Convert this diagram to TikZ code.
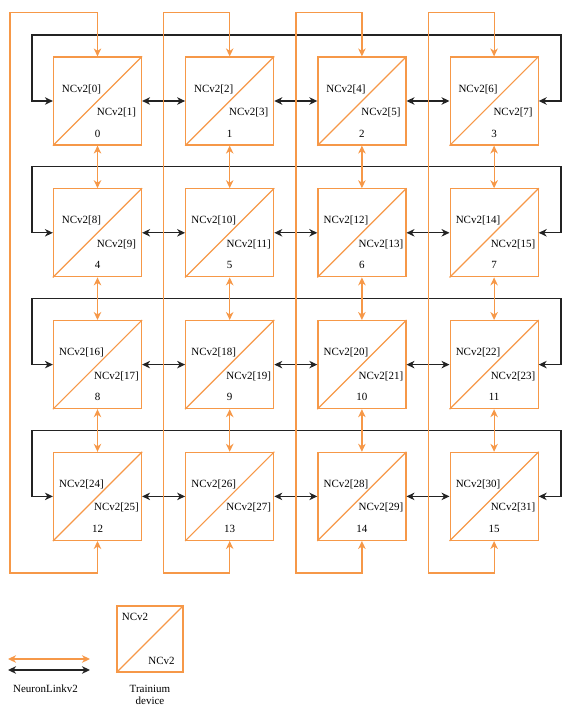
\documentclass[tikz,border=0pt]{standalone}
\usepackage{fontspec}
\setmainfont{Liberation Serif}
\usetikzlibrary{arrows.meta,calc}
\definecolor{arancio}{RGB}{246,152,72}
\definecolor{nero}{RGB}{35,35,35}

\begin{document}
\begin{tikzpicture}[x=1pt, y=-1pt, line width=1.2pt,
    >={Stealth[length=8pt, width=7.5pt, inset=2.5pt]},
    dev/.style={draw=arancio, minimum size=88pt, inner sep=0pt},
    txt/.style={font=\fontsize{11}{12}\selectfont, inner sep=0pt, text=black},
    olink/.style={draw=arancio, <->},
    blink/.style={draw=nero, <->}]

    \useasboundingbox (0,0) rectangle (574,711);

    % Definizione del comando \chip: numero, x, y
    \def\chip#1#2#3{%
        \node[dev] (d#1) at (#2,#3) {};%
        \draw[arancio] (d#1.south west) -- (d#1.north east);%
        \node[txt] (u#1) at ($(d#1)+(-16,-12)$) {NCv2[\the\numexpr2*#1\relax]};%
        \node[txt] (l#1) at ($(d#1)+(19,11.5)$) {NCv2[\the\numexpr2*#1+1\relax]};%
        \node[txt] (n#1) at ($(d#1)+(0,32.5)$) {#1};%
    }

    % -- Griglia 4x4 dei dispositivi --
    \chip{0}{97.5}{101}    \chip{1}{229.7}{101}
    \chip{2}{361.9}{101}   \chip{3}{494.1}{101}
    \chip{4}{97.5}{232.8}  \chip{5}{229.7}{232.8}
    \chip{6}{361.9}{232.8} \chip{7}{494.1}{232.8}
    \chip{8}{97.5}{364.6}  \chip{9}{229.7}{364.6}
    \chip{10}{361.9}{364.6} \chip{11}{494.1}{364.6}
    \chip{12}{97.5}{496.4} \chip{13}{229.7}{496.4}
    \chip{14}{361.9}{496.4} \chip{15}{494.1}{496.4}

    % -- Anelli di riga (neri) --
    \coordinate (rl0) at (32,35);     \coordinate (rr0) at (561,35);
    \coordinate (rl1) at (32,166.8);  \coordinate (rr1) at (561,166.8);
    \coordinate (rl2) at (32,298.6);  \coordinate (rr2) at (561,298.6);
    \coordinate (rl3) at (32,430.4);  \coordinate (rr3) at (561,430.4);

    \draw[blink] (d0.west) -| (rl0) -- (rr0) |- (d3.east);
    \draw[blink] (d4.west) -| (rl1) -- (rr1) |- (d7.east);
    \draw[blink] (d8.west) -| (rl2) -- (rr2) |- (d11.east);
    \draw[blink] (d12.west) -| (rl3) -- (rr3) |- (d15.east);

    % collegamenti orizzontali fra vicini
    \draw[blink] (d0) -- (d1);   \draw[blink] (d1) -- (d2);   \draw[blink] (d2) -- (d3);
    \draw[blink] (d4) -- (d5);   \draw[blink] (d5) -- (d6);   \draw[blink] (d6) -- (d7);
    \draw[blink] (d8) -- (d9);   \draw[blink] (d9) -- (d10);  \draw[blink] (d10) -- (d11);
    \draw[blink] (d12) -- (d13); \draw[blink] (d13) -- (d14); \draw[blink] (d14) -- (d15);

    % -- Anelli di colonna (arancio) --
    \coordinate (ct0) at (10,12.5);    \coordinate (cb0) at (10,573);
    \coordinate (ct1) at (163.7,12.5); \coordinate (cb1) at (163.7,573);
    \coordinate (ct2) at (295.9,12.5); \coordinate (cb2) at (295.9,573);
    \coordinate (ct3) at (428.1,12.5); \coordinate (cb3) at (428.1,573);

    \draw[olink] (d0.north) |- (ct0) -- (cb0) -| (d12.south);
    \draw[olink] (d1.north) |- (ct1) -- (cb1) -| (d13.south);
    \draw[olink] (d2.north) |- (ct2) -- (cb2) -| (d14.south);
    \draw[olink] (d3.north) |- (ct3) -- (cb3) -| (d15.south);

    % collegamenti verticali fra vicini
    \draw[olink] (d0) -- (d4);   \draw[olink] (d4) -- (d8);   \draw[olink] (d8) -- (d12);
    \draw[olink] (d1) -- (d5);   \draw[olink] (d5) -- (d9);   \draw[olink] (d9) -- (d13);
    \draw[olink] (d2) -- (d6);   \draw[olink] (d6) -- (d10);  \draw[olink] (d10) -- (d14);
    \draw[olink] (d3) -- (d7);   \draw[olink] (d7) -- (d11);  \draw[olink] (d11) -- (d15);

    % -- Legenda --
    \coordinate (lo1) at (8,659);  \coordinate (lo2) at (90,659);
    \coordinate (lb1) at (8,670);  \coordinate (lb2) at (90,670);
    \draw[olink] (lo1) -- (lo2);
    \draw[blink] (lb1) -- (lb2);
    \node[txt] (leglink) at (45.5,689) {NeuronLinkv2};

    \node[dev, minimum size=66pt] (legdev) at (150,639) {};
    \draw[arancio] (legdev.south west) -- (legdev.north east);
    \node[txt] (legu) at (135,617) {NCv2};
    \node[txt] (legl) at (161.5,661) {NCv2};
    \node[txt, align=center] (legtxt) at (150,695) {Trainium\\device};
\end{tikzpicture}
\end{document}
